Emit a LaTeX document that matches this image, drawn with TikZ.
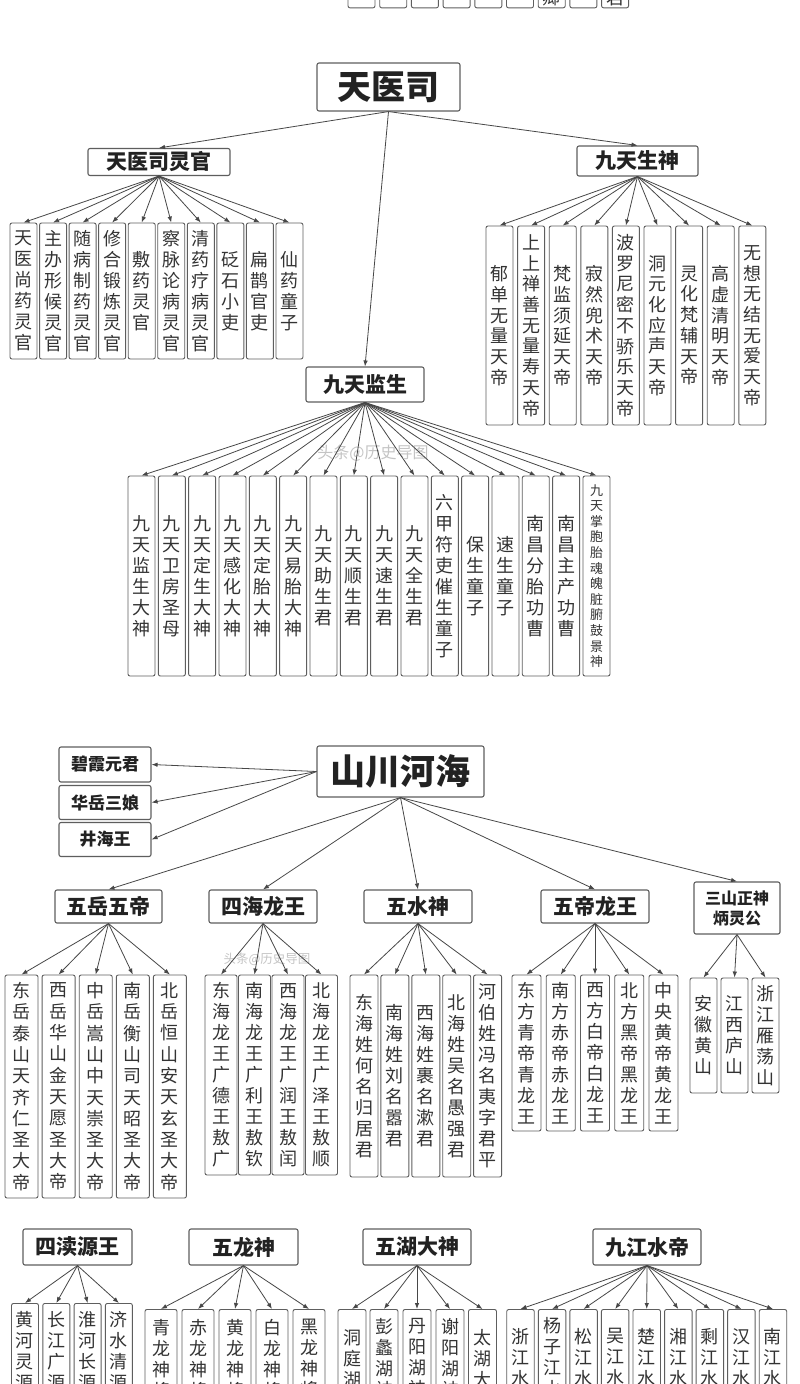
\documentclass[tikz,border=0pt]{standalone}
\usepackage{fontspec}
\newfontfamily\cjk{Noto Sans CJK SC}
\usetikzlibrary{arrows.meta}
\definecolor{boxc}{HTML}{5E5E5E}
\definecolor{arrc}{HTML}{474747}
\definecolor{txtc}{HTML}{333333}
\definecolor{hdtc}{HTML}{222222}
\definecolor{wmc}{HTML}{C4C4C4}
\def\vt#1{#1\vtrest}
\def\vtrest#1{\ifx\relax#1\else\\#1\expandafter\vtrest\fi}
\def\VT#1{\vt#1\relax}
\def\VTm#1{\expandafter\VT\expandafter{#1}}
\tikzset{
  hd/.style={draw=boxc, line width=1.1pt, rounded corners=2pt, fill=white, inner sep=0pt, align=center, text=hdtc, font=\cjk\bfseries\fontsize{21}{24}\selectfont},
  leaf/.style={draw=boxc, line width=0.9pt, rounded corners=2pt, fill=white, inner sep=0pt, align=center, text=txtc, font=\cjk\fontsize{18}{21}\selectfont},
  vtext/.style={inner sep=0pt, align=center, text=txtc, font=\cjk\fontsize{18}{21}\selectfont},
  arr/.style={draw=arrc, line width=0.8pt, -{Latex[length=6pt,width=4.5pt]}},
  wm/.style={inner sep=0pt, text=wmc, font=\cjk\fontsize{16}{18}\selectfont},
}
\begin{document}
\begin{tikzpicture}[x=1pt,y=-1pt]
\useasboundingbox (0,0) rectangle (800,1384);
\fill[white] (0,0) rectangle (800,1384);
\clip (0,0) rectangle (800,1384);

% ---- partial boxes at the top edge ----
\foreach \i in {0,...,8}{
  \node[leaf, minimum width=27pt, minimum height=60pt, anchor=south] (t\i) at ({361.5+31.7*\i},8.3) {};
}
\node[vtext, anchor=south] (tt6) at (t6.south) [yshift=2pt] {卿};
\node[vtext, anchor=south] (tt8) at (t8.south) [yshift=2pt] {君};

% ---- section 1 ----
\node[hd, minimum width=143pt, minimum height=48pt, font=\cjk\bfseries\fontsize{34}{38}\selectfont] (N1) at (388.5,87) {天医司};
\node[hd, minimum width=142pt, minimum height=27pt] (A) at (159,162) {天医司灵官};
\node[hd, minimum width=121pt, minimum height=30pt] (B) at (637.5,161) {九天生神};
\node[hd, minimum width=118pt, minimum height=35pt] (C) at (365,384.5) {九天监生};
\draw[arr] (N1.south) -- (A.north);
\draw[arr] (N1.south) -- (B.north);
\draw[arr] (N1.south) -- (C.north);

\foreach \tx [count=\i from 0] in {天医尚药灵官,主办形候灵官,随病制药灵官,修合锻炼灵官,敷药灵官,察脉论病灵官,清药疗病灵官,砭石小吏,扁鹊官吏,仙药童子}{
  \node[leaf, minimum width=27pt, minimum height=136pt] (a\i) at ({23.5+29.55*\i},291) {\VTm\tx};
  \draw[arr] (A.south) -- (a\i.north);
}
\foreach \tx [count=\i from 0] in {郁单无量天帝,上上禅善无量寿天帝,梵监须延天帝,寂然兜术天帝,波罗尼密不骄乐天帝,洞元化应声天帝,灵化梵辅天帝,高虚清明天帝,无想无结无爱天帝}{
  \node[leaf, minimum width=27pt, minimum height=199pt, font=\cjk\fontsize{18}{20.7}\selectfont] (b\i) at ({499.5+31.6*\i},325.5) {\VTm\tx};
  \draw[arr] (B.south) -- (b\i.north);
}
\node[wm] (wm1) at (373,453) {头条@历史导图};
\foreach \tx [count=\i from 0] in {九天监生大神,九天卫房圣母,九天定生大神,九天感化大神,九天定胎大神,九天易胎大神,九天助生君,九天顺生君,九天速生君,九天全生君,六甲符吏催生童子,保生童子,速生童子,南昌分胎功曹,南昌主产功曹}{
  \node[leaf, minimum width=27pt, minimum height=200pt] (c\i) at ({141.5+30.33*\i},576) {\VTm\tx};
  \draw[arr] (C.south) -- (c\i.north);
}
\node[leaf, minimum width=27pt, minimum height=200pt, font=\cjk\fontsize{13}{15.6}\selectfont] (c15) at (596.5,576) {\VT{九天掌胞胎魂魄脏腑鼓景神}};
\draw[arr] (C.south) -- (c15.north);

% ---- section 2 ----
\node[hd, minimum width=167pt, minimum height=51pt, font=\cjk\bfseries\fontsize{35}{38}\selectfont] (S) at (400.5,771.5) {山川河海};
\node[hd, minimum width=92pt, minimum height=35pt, font=\cjk\bfseries\fontsize{17}{20}\selectfont] (L1) at (105,764.5) {碧霞元君};
\node[hd, minimum width=92pt, minimum height=34pt, font=\cjk\bfseries\fontsize{17}{20}\selectfont] (L2) at (105,802.5) {华岳三娘};
\node[hd, minimum width=92pt, minimum height=34pt, font=\cjk\bfseries\fontsize{17}{20}\selectfont] (L3) at (105,839.5) {井海王};
\draw[arr] (S.west) -- (L1.east);
\draw[arr] (S.west) -- (L2.east);
\draw[arr] (S.west) -- (L3.east);

\node[hd, minimum width=107pt, minimum height=33pt] (G1) at (108.5,906.5) {五岳五帝};
\node[hd, minimum width=108pt, minimum height=33pt] (G2) at (263,906.5) {四海龙王};
\node[hd, minimum width=108pt, minimum height=33pt] (G3) at (418,906.5) {五水神};
\node[hd, minimum width=108pt, minimum height=33pt] (G4) at (595,906.5) {五帝龙王};
\node[hd, minimum width=86pt, minimum height=52pt, font=\cjk\bfseries\fontsize{16}{20}\selectfont] (G5) at (737,908) {三山正神\\炳灵公};
\foreach \g in {G1,G2,G3,G4,G5}{\draw[arr] (S.south) -- (\g.north);}

\node[wm, font=\cjk\fontsize{12.5}{14}\selectfont] (wm2) at (267,959) {头条@历史导图};

\foreach \tx [count=\i from 0] in {东岳泰山天齐仁圣大帝,西岳华山金天愿圣大帝,中岳嵩山中天崇圣大帝,南岳衡山司天昭圣大帝,北岳恒山安天玄圣大帝}{
  \node[leaf, minimum width=33pt, minimum height=223pt, font=\cjk\fontsize{18}{21.3}\selectfont] (e\i) at ({21.5+37.1*\i},1086.5) {\VTm\tx};
  \draw[arr] (G1.south) -- (e\i.north);
}
\foreach \tx [count=\i from 0] in {东海龙王广德王敖广,南海龙王广利王敖钦,西海龙王广润王敖闰,北海龙王广泽王敖顺}{
  \node[leaf, minimum width=32pt, minimum height=200pt] (f\i) at ({221+33.5*\i},1075) {\VTm\tx};
  \draw[arr] (G2.south) -- (f\i.north);
}
\foreach \tx [count=\i from 0] in {东海姓何名归居君,南海姓刘名嚣君,西海姓裹名漱君,北海姓吴名愚强君,河伯姓冯名夷字君平}{
  \node[leaf, minimum width=28pt, minimum height=202pt] (g\i) at ({364+30.9*\i},1076) {\VTm\tx};
  \draw[arr] (G3.south) -- (g\i.north);
}
\foreach \tx [count=\i from 0] in {东方青帝青龙王,南方赤帝赤龙王,西方白帝白龙王,北方黑帝黑龙王,中央黄帝黄龙王}{
  \node[leaf, minimum width=29pt, minimum height=156pt] (h\i) at ({526.5+34.25*\i},1053) {\VTm\tx};
  \draw[arr] (G4.south) -- (h\i.north);
}
\foreach \tx [count=\i from 0] in {安徽黄山,江西庐山,浙江雁荡山}{
  \node[leaf, minimum width=27pt, minimum height=115pt] (k\i) at ({703.5+31*\i},1035.5) {\VTm\tx};
  \draw[arr] (G5.south) -- (k\i.north);
}

% ---- section 3 ----
\node[hd, minimum width=109pt, minimum height=36pt] (H1) at (77.5,1247) {四渎源王};
\node[hd, minimum width=109pt, minimum height=36pt] (H2) at (243.5,1247) {五龙神};
\node[hd, minimum width=108pt, minimum height=36pt] (H3) at (417,1247) {五湖大神};
\node[hd, minimum width=108pt, minimum height=36pt] (H4) at (647,1247) {九江水帝};

\foreach \tx/\c [count=\i from 0] in {黄河灵源/1319.5,长江广源/1319.5,淮河长源/1319.5,济水清源/1319.5}{
  \node[leaf, minimum width=27pt, minimum height=130pt, anchor=north] (p\i) at ({25+31.3*\i},1303) {};
  \node[vtext, anchor=north] (pt\i) at ({25+31.3*\i},\c-8) {\VTm\tx};
  \draw[arr] (H1.south) -- (p\i.north);
}
\foreach \tx/\c [count=\i from 0] in {青龙神将/1327,赤龙神将/1327,黄龙神将/1327,白龙神将/1327,黑龙神将/1327}{
  \node[leaf, minimum width=32pt, minimum height=130pt, anchor=north] (q\i) at ({161+37*\i},1309) {};
  \node[vtext, anchor=north] (qt\i) at ({161+37*\i},\c-8) {\VTm\tx};
  \draw[arr] (H2.south) -- (q\i.north);
}
\foreach \tx/\c/\x [count=\i from 0] in {洞庭湖/1337/352,彭蠡湖神/1326.5/384,丹阳湖神/1326.5/417,谢阳湖神/1326.5/450,太湖大/1337/482.5}{
  \node[leaf, minimum width=28pt, minimum height=130pt, anchor=north] (r\i) at (\x,1309) {};
  \node[vtext, anchor=north] (rt\i) at (\x,\c-8) {\VTm\tx};
  \draw[arr] (H3.south) -- (r\i.north);
}
\foreach \tx/\c [count=\i from 0] in {浙江水/1336,杨子江水/1325.5,松江水/1336,吴江水/1336,楚江水/1336,湘江水/1336,剩江水/1336,汉江水/1336,南江水/1336}{
  \node[leaf, minimum width=27.5pt, minimum height=130pt, anchor=north] (s\i) at ({520.5+31.56*\i},1309) {};
  \node[vtext, anchor=north] (st\i) at ({520.5+31.56*\i},\c-8) {\VTm\tx};
  \draw[arr] (H4.south) -- (s\i.north);
}
\end{tikzpicture}
\end{document}
